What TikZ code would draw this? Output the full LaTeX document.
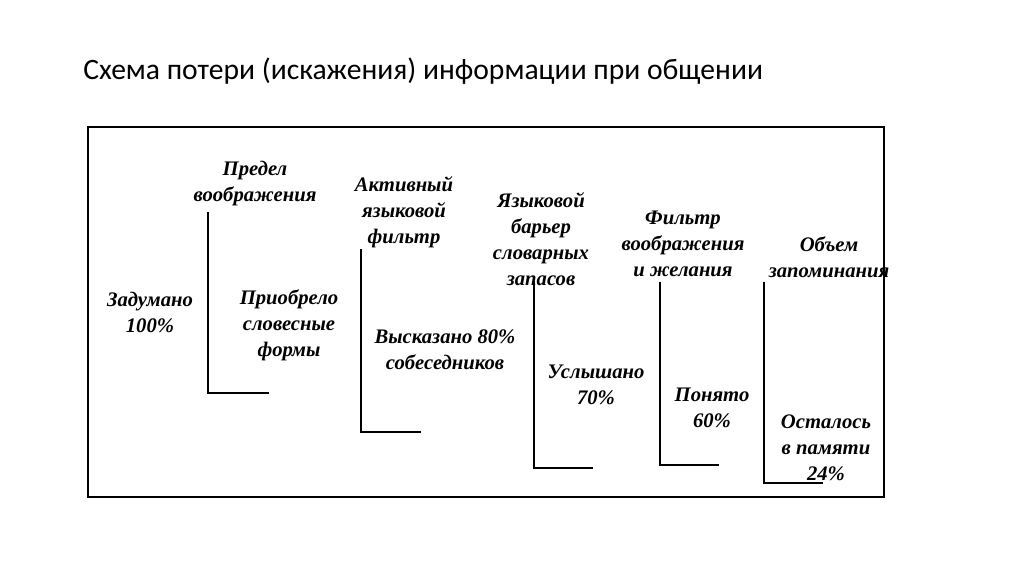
\documentclass[tikz,border=0pt]{standalone}
\usepackage{fontspec}
\setmainfont{Liberation Serif}
\newfontfamily\titlefont{Carlito}
\usetikzlibrary{positioning}

\tikzset{
  lbl/.style={align=center, inner sep=0pt, font=\fontsize{15.5}{19.5}\selectfont\bfseries\itshape},
  bracket/.style={line width=1.6pt, line cap=rect}
}

\begin{document}
\begin{tikzpicture}[x=0.75pt, y=-0.75pt]
    \useasboundingbox (0, 0) rectangle (1024, 574);
    
    \node[anchor=west, inner sep=0pt, font=\titlefont\fontsize{22.2}{26}\selectfont] (title) at (83, 71) {Схема потери (искажения) информации при общении};
    
    \draw[line width=1.8pt] (88, 127) rectangle (884, 497);
    
    % stages
    \draw[bracket] (208, 213) -- (208, 393) -- (268, 393);
    \draw[bracket] (361, 250) -- (361, 432) -- (420, 432);
    \draw[bracket] (534, 282) -- (534, 468) -- (592, 468);
    \draw[bracket] (660, 283) -- (660, 465) -- (718, 465);
    \draw[bracket] (764, 283) -- (764, 483) -- (822, 483);
    
    \node[lbl] (limit) at (255, 184) {Предел\\воображения};
    \node[lbl] (planned) at (150, 312) {Задумано\\100\%};
    \node[lbl] (verbal) at (289, 325) {Приобрело\\словесные\\формы};
    \node[lbl] (active) at (404, 212) {Активный\\языковой\\фильтр};
    \node[lbl] (spoken) at (445, 350) {Высказано 80\%\\собеседников};
    \node[lbl] (barrier) at (541, 239) {Языковой\\барьер\\словарных\\запасов};
    \node[lbl] (heard) at (596, 385) {Услышано\\70\%};
    \node[lbl] (wish) at (683, 244) {Фильтр\\воображения\\и желания};
    \node[lbl] (understood) at (712, 408) {Понято\\60\%};
    \node[lbl] (volume) at (829, 257) {Объем\\запоминания};
    \node[lbl] (memory) at (826, 448) {Осталось\\в памяти\\24\%};
  \end{tikzpicture}
\end{document}
